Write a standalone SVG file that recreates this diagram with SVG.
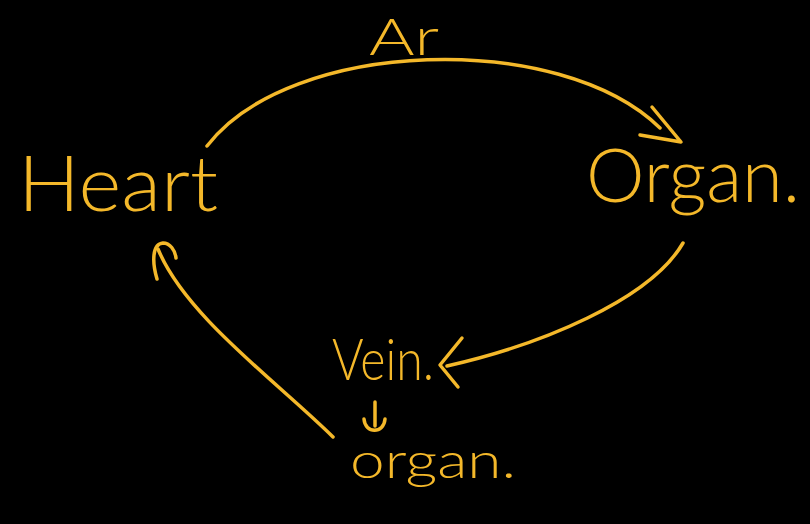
<svg xmlns="http://www.w3.org/2000/svg" width="810" height="524" viewBox="0 0 810 524">
<style>
.bg{fill:#000}
.t{fill:#F4B82A;font-family:"Lato","Liberation Sans",sans-serif;font-weight:300}
.c{fill:none;stroke:#F4B82A;stroke-width:3.5;stroke-linecap:round;stroke-linejoin:round}
</style>
<rect class="bg" x="0" y="0" width="810" height="524"/>
<g id="heart"><text class="t" x="18" y="211" font-size="76" textLength="200" lengthAdjust="spacingAndGlyphs">Heart</text></g>
<g id="organ-right"><text class="t" x="586" y="202" font-size="74" textLength="214" lengthAdjust="spacingAndGlyphs">Organ.</text></g>
<g id="vein"><text class="t" x="332" y="380" font-size="58" textLength="102" lengthAdjust="spacingAndGlyphs">Vein.</text></g>
<g id="organ-bottom"><text class="t" x="350" y="478" font-size="50" textLength="166" lengthAdjust="spacingAndGlyphs">organ.</text></g>
<g id="label-ar"><text class="t" x="369" y="55" font-size="52" textLength="70" lengthAdjust="spacingAndGlyphs">Ar</text></g>
<g id="connectors">
<path class="c" d="M207,146 C290,38 560,30 660,128"/>
<path class="c" d="M652,107 L681,142 L640,135"/>
<path class="c" d="M683,243 C650,300 540,345 447,366"/>
<path class="c" d="M462,338 L440,365 L458,387"/>
<path class="c" d="M333,437 C275,380 185,315 158,249"/>
<path class="c" d="M157,279 C152,262 152,244 163,243 C170,243 175,250 176,258"/>
<path class="c" d="M375,402 L375,426"/>
<path class="c" d="M364,419 C365,434 384,434 385,419"/>
</g>
</svg>
